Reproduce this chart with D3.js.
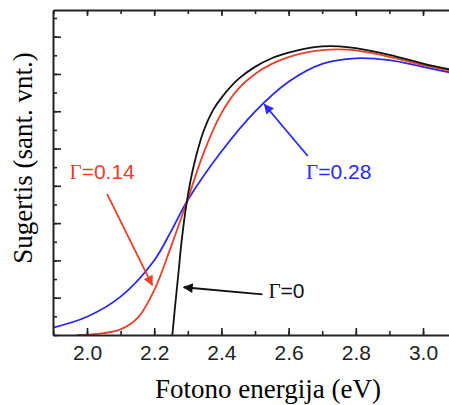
<!DOCTYPE html>
<html>
<head>
<meta charset="utf-8">
<script src="https://cdn.jsdelivr.net/npm/d3@7"></script>
<style>
  body { margin: 0; background: #fff; }
  svg { display: block; }
  .axis path, .axis line { stroke: #222; }
  .axis text { font-family: "Liberation Sans", Arial, sans-serif; font-size: 21px; fill: #222; }
</style>
</head>
<body>
<div id="container"></div>
<script>
// photon energy (eV) and absorption (arb. units)
var energy0 = [2.254, 2.262, 2.272, 2.282, 2.297, 2.317, 2.347, 2.375, 2.4, 2.45, 2.5, 2.55, 2.6, 2.65, 2.7, 2.75, 2.8, 2.9, 3.0, 3.08];
var absorb0 = [0, 0.76, 1.65, 2.55, 3.57, 4.51, 5.47, 6.03, 6.36, 6.86, 7.19, 7.42, 7.57, 7.68, 7.74, 7.74, 7.69, 7.51, 7.28, 7.12];

var energy14 = [1.97, 2.0, 2.05, 2.1, 2.15, 2.2, 2.25, 2.297, 2.35, 2.4, 2.45, 2.5, 2.55, 2.6, 2.65, 2.7, 2.75, 2.8, 2.9, 3.0, 3.08];
var absorb14 = [0, 0.01, 0.05, 0.15, 0.45, 1.2, 2.37, 3.57, 4.95, 5.95, 6.6, 7.0, 7.27, 7.45, 7.57, 7.64, 7.66, 7.63, 7.46, 7.24, 7.09];

var energy28 = [1.9, 2.0, 2.1, 2.2, 2.25, 2.3, 2.4, 2.5, 2.6, 2.7, 2.8, 2.9, 3.0, 3.08];
var absorb28 = [0.2, 0.49, 1.03, 2.0, 2.78, 3.62, 4.92, 5.99, 6.79, 7.27, 7.42, 7.37, 7.19, 7.04];

var xTickLabels = [2.0, 2.2, 2.4, 2.6, 2.8, 3.0];
var seriesNames = ["Γ=0", "Γ=0.14", "Γ=0.28"];
var seriesColors = ["#111111", "#e8402a", "#2a2af5"];

var W = 449, H = 405;
var margin = {left: 53, top: 10, bottom: 335};

var svg = d3.select("#container").append("svg")
    .attr("width", W)
    .attr("height", H);

var x = d3.scaleLinear().domain([1.9, 3.08]).range([53.4, 449.9]);
var y = d3.scaleLinear().domain([0, 8.715]).range([margin.bottom, margin.top]);

svg.append("clipPath").attr("id", "plotclip")
  .append("rect").attr("x", margin.left).attr("y", margin.top)
  .attr("width", W - margin.left).attr("height", margin.bottom - margin.top);

// curves
var series = [
  {name: seriesNames[0], color: seriesColors[0], e: energy0, a: absorb0},
  {name: seriesNames[1], color: seriesColors[1], e: energy14, a: absorb14},
  {name: seriesNames[2], color: seriesColors[2], e: energy28, a: absorb28}
];

var line = d3.line()
    .x(function(d) { return x(d[0]); })
    .y(function(d) { return y(d[1]); })
    .curve(d3.curveCatmullRom.alpha(0.5));

svg.append("g").attr("clip-path", "url(#plotclip)")
  .selectAll("path")
  .data(series.slice().reverse())
  .enter().append("path")
    .attr("fill", "none")
    .attr("stroke", function(d) { return d.color; })
    .attr("stroke-width", 1.8)
    .attr("d", function(d) { return line(d3.zip(d.e, d.a)); });

// axes, ticks pointing inwards
var minorX = d3.range(19, 31).map(function(v) { return v / 10; });
var minorY = d3.range(0, 9, 0.5);

svg.append("g").attr("class", "axis")
    .attr("transform", "translate(0," + margin.bottom + ")")
    .call(d3.axisBottom(x).tickValues(minorX).tickSize(-4).tickFormat(""))
    .call(function(g) { g.select(".domain").remove(); });
svg.append("g").attr("class", "axis")
    .attr("transform", "translate(0," + margin.bottom + ")")
    .call(d3.axisBottom(x).tickValues(xTickLabels).tickSizeInner(-7).tickSizeOuter(0)
      .tickPadding(10).tickFormat(d3.format(".1f")))
    .call(function(g) { g.select(".domain").attr("stroke-width", 2); });

svg.append("g").attr("class", "axis")
    .attr("transform", "translate(0," + margin.top + ")")
    .call(d3.axisTop(x).tickValues(minorX).tickSize(-4).tickFormat(""))
    .call(function(g) { g.select(".domain").remove(); });
svg.append("g").attr("class", "axis")
    .attr("transform", "translate(0," + margin.top + ")")
    .call(d3.axisTop(x).tickValues(xTickLabels).tickSizeInner(-6).tickSizeOuter(0).tickFormat(""))
    .call(function(g) { g.select(".domain").attr("stroke-width", 2); });

svg.append("g").attr("class", "axis")
    .attr("transform", "translate(" + margin.left + ",0)")
    .call(d3.axisLeft(y).tickValues(minorY).tickSize(-4).tickFormat(""))
    .call(function(g) { g.select(".domain").remove(); });
svg.append("g").attr("class", "axis")
    .attr("transform", "translate(" + margin.left + ",0)")
    .call(d3.axisLeft(y).tickValues(d3.range(1, 9)).tickSizeInner(-8).tickSizeOuter(0).tickFormat(""))
    .call(function(g) { g.select(".domain").attr("stroke-width", 2); });

svg.selectAll(".axis .tick line").attr("stroke-width", 1.6);

// axis titles
svg.append("text")
    .attr("x", 268).attr("y", 398)
    .attr("text-anchor", "middle")
    .style("font-family", "'Liberation Serif', 'Times New Roman', serif")
    .style("font-size", "27px")
    .text("Fotono energija (eV)");

svg.append("text")
    .attr("transform", "translate(32,158) rotate(-90)")
    .attr("text-anchor", "middle")
    .style("font-family", "'Liberation Serif', 'Times New Roman', serif")
    .style("font-size", "27px")
    .text("Sugertis (sant. vnt.)");

// annotations: label position, arrow tail and arrow tip in data units
var notes = [
  {s: 0, lx: 2.54, ly: 1.0, from: [2.522, 1.09], to: [2.288, 1.28]},
  {s: 1, lx: 1.948, ly: 4.18, from: [2.06, 3.78], to: [2.194, 1.34]},
  {s: 2, lx: 2.652, ly: 4.18, from: [2.657, 4.8], to: [2.528, 6.18]}
];

var defs = svg.append("defs");
seriesColors.forEach(function(c, i) {
  defs.append("marker")
      .attr("id", "arrow" + i)
      .attr("viewBox", "0 0 10 10")
      .attr("refX", 9).attr("refY", 5)
      .attr("markerWidth", 6.5).attr("markerHeight", 5.5)
      .attr("markerUnits", "strokeWidth")
      .attr("orient", "auto")
    .append("path")
      .attr("d", "M0,0L10,5L0,10z")
      .attr("fill", c);
});

notes.forEach(function(n) {
  var c = seriesColors[n.s];
  svg.append("line")
      .attr("x1", x(n.from[0])).attr("y1", y(n.from[1]))
      .attr("x2", x(n.to[0])).attr("y2", y(n.to[1]))
      .attr("stroke", c)
      .attr("stroke-width", 1.8)
      .attr("marker-end", "url(#arrow" + n.s + ")");

  var t = svg.append("text")
      .attr("x", x(n.lx)).attr("y", y(n.ly))
      .style("font-size", "21px")
      .attr("fill", c);
  var parts = seriesNames[n.s].split("=");
  t.append("tspan")
      .style("font-family", "'Liberation Serif', 'Times New Roman', serif")
      .text(parts[0]);
  t.append("tspan")
      .style("font-family", "'Liberation Sans', Arial, sans-serif")
      .text("=" + parts[1]);
});
</script>
</body>
</html>
